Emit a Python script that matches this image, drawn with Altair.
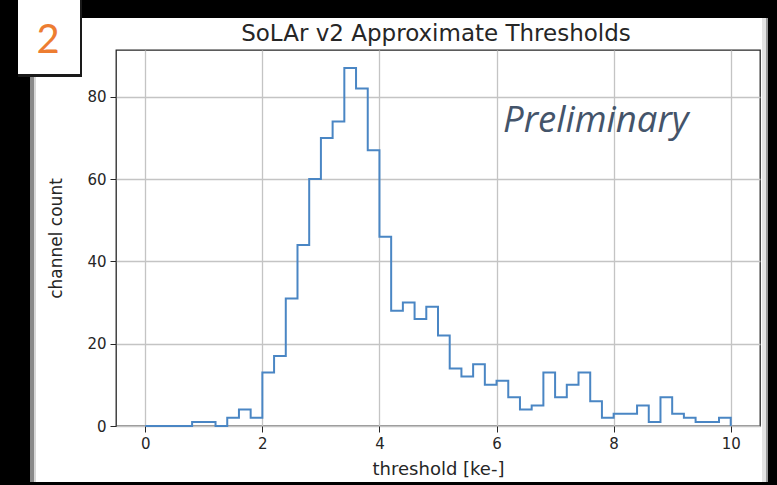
import altair as alt
import pandas as pd

# Histogram of approximate channel thresholds, 0.2 ke- bins from 0 to 10 ke-
bin_start = 0.0
bin_width = 0.2
counts = [
    0, 0, 0, 0, 1, 1, 0, 2, 4, 2,
    13, 17, 31, 44, 60, 70, 74, 87, 82, 67,
    46, 28, 30, 26, 29, 22, 14, 12, 15, 10,
    11, 7, 4, 5, 13, 7, 10, 13, 6, 2,
    3, 3, 5, 1, 7, 3, 2, 1, 1, 2,
]
x_ticks = [0, 2, 4, 6, 8, 10]
y_ticks = [0, 20, 40, 60, 80]

title_text = "SoLAr v2 Approximate Thresholds"
x_title = "threshold [ke-]"
y_title = "channel count"
watermark = "Preliminary"
slide_number = "2"

# Step outline (matplotlib histtype="step"): rise at each edge, run along the bin top
rows = []
order = 0
edges = [bin_start + i * bin_width for i in range(len(counts) + 1)]
rows.append({"x": edges[0], "y": 0, "o": order})
for i, c in enumerate(counts):
    order += 1
    rows.append({"x": edges[i], "y": c, "o": order})
    order += 1
    rows.append({"x": edges[i + 1], "y": c, "o": order})
order += 1
rows.append({"x": edges[-1], "y": 0, "o": order})
step_df = pd.DataFrame(rows)

W, H = 644, 376          # plot area
LEFT, TOP = 116, 50      # plot area origin inside the 777x485 page
y_max = max(counts) * 1.05

x_scale = alt.Scale(domain=[-0.5, 10.5], nice=False, zero=False)
y_scale = alt.Scale(domain=[0, y_max], nice=False)

axis_common = dict(
    labelFont="DejaVu Sans",
    labelFontSize=15,
    labelColor="#262626",
    tickColor="#262626",
    tickSize=6,
    tickWidth=1,
    labelPadding=4,
    grid=True,
    gridColor="#c4c4c4",
    gridWidth=1.3,
    domain=False,
    titleFont="DejaVu Sans",
    titleFontWeight="normal",
    titleColor="#262626",
)

hist = alt.Chart(step_df).mark_line(
    color="#4a86c4", strokeWidth=2, strokeJoin="miter", clip=False
).encode(
    x=alt.X("x:Q", scale=x_scale,
            axis=alt.Axis(values=x_ticks, title=x_title, titlePadding=9,
                          titleFontSize=18, format="d", **axis_common)),
    y=alt.Y("y:Q", scale=y_scale,
            axis=alt.Axis(values=y_ticks, title=y_title, titlePadding=21,
                          titleFontSize=17, format="d", **axis_common)),
    order="o:O",
)

one = alt.Data(values=[{}])


def px(v):
    return v - LEFT


def py(v):
    return v - TOP


def box(x0, x1, y0, y1, color):
    return alt.Chart(one).mark_rect(color=color, clip=False).encode(
        x=alt.value(px(x0)), x2=alt.value(px(x1)),
        y=alt.value(py(y0)), y2=alt.value(py(y1)),
    )


# dark slide surround
frame = [
    box(0, 777, 0, 18, "black"),
    box(0, 30, 0, 485, "black"),
    box(768, 777, 0, 485, "black"),
    box(0, 777, 482, 485, "black"),
    box(30, 34, 18, 482, "#8a8a8a"),
    box(34, 36, 18, 482, "#d8d8d8"),
    box(762, 766, 18, 482, "#e4e4e4"),
    box(766, 768, 18, 482, "#9a9a9a"),
]
badge_shadow = box(18, 82, 0, 77, "#1a1a1a")
badge = box(18, 80, 0, 74, "white")

badge_text = alt.Chart(one).mark_text(
    text=slide_number, font="Lato", fontSize=40, color="#ED7D31",
    align="center", baseline="alphabetic",
).encode(x=alt.value(px(48)), y=alt.value(py(53)))

title = alt.Chart(one).mark_text(
    text=title_text, font="DejaVu Sans", fontSize=23, color="#262626",
    align="center", baseline="alphabetic",
).encode(x=alt.value(W / 2 - 2), y=alt.value(py(41)))

prelim = alt.Chart(one).mark_text(
    text=watermark, font="Open Sans", fontStyle="italic", fontSize=36.5,
    color="#44546A", align="left", baseline="alphabetic",
).encode(x=alt.value(px(503)), y=alt.value(py(132)))

chart = alt.layer(
    hist, *frame, badge_shadow, badge, badge_text, title, prelim
).properties(
    width=W, height=H,
    padding={"left": LEFT, "top": TOP, "right": 777 - LEFT - W, "bottom": 485 - TOP - H},
    autosize=alt.AutoSizeParams(type="none"),
    background="white",
).configure_view(
    stroke="#262626", strokeWidth=1.3,
)

chart.save("out.html", embed_options={"renderer": "svg", "actions": False})
